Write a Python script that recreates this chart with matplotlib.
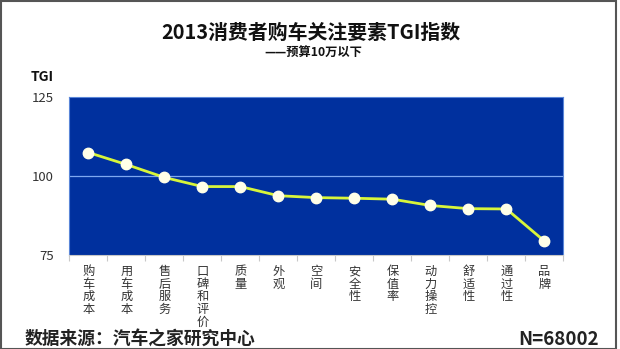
import numpy as np
import matplotlib
matplotlib.use("Agg")
import matplotlib.pyplot as plt
from matplotlib.patches import Rectangle

plt.rcParams['font.family'] = ['Noto Sans CJK SC', 'DejaVu Sans']

categories = ['购车成本', '用车成本', '售后服务', '口碑和评价', '质量', '外观', '空间',
              '安全性', '保值率', '动力操控', '舒适性', '通过性', '品牌']
tgi = [107.5, 103.7, 99.6, 96.7, 96.7, 93.8, 93.2, 93.0, 92.7, 90.7, 89.7, 89.6, 79.4]
yticks = [75, 100, 125]

fig = plt.figure(figsize=(6.2, 3.49), dpi=100)
fig.patch.set_facecolor('white')

ax = fig.add_axes([0.1118, 0.2693, 0.797, 0.4519])
ax.set_facecolor('#00309E')

x = np.arange(len(categories))
ax.axhline(100, color='#7FA8F0', lw=0.9, zorder=1)
ax.plot(x, tgi, color='#D8F53A', lw=2, zorder=2,
        marker='o', ms=7.5, mfc='#FFFFE8', mec='#FFFFE8')

ax.set_xlim(-0.5, len(categories) - 0.5)
ax.set_ylim(75, 125)
ax.set_yticks(yticks)
ax.set_yticklabels([str(v) for v in yticks], fontsize=9.5, color='#333333')
ax.tick_params(axis='y', length=0, pad=11)

# category ticks sit between the points, labels written top to bottom
ax.set_xticks(np.arange(len(categories) + 1) - 0.5)
ax.set_xticklabels([])
ax.tick_params(axis='x', length=4, color='#C8C8C8', direction='out')
for i, name in enumerate(categories):
    ax.text(i, 71.8, '\n'.join(name), ha='center', va='top', fontsize=8.8,
            color='#333333', linespacing=0.96)

for side in ['top', 'left', 'right']:
    ax.spines[side].set_color('#5A86D8')
    ax.spines[side].set_linewidth(0.8)
ax.spines['bottom'].set_color('#C8C8C8')
ax.spines['bottom'].set_linewidth(0.8)

fig.text(0.502, 0.908, '2013消费者购车关注要素TGI指数', ha='center', va='center',
         fontsize=14.3, fontweight='bold', color='#111111')
fig.text(0.505, 0.851, '——预算10万以下', ha='center', va='center',
         fontsize=8.8, fontweight='bold', color='#111111')
fig.text(0.068, 0.779, 'TGI', ha='center', va='center',
         fontsize=10, fontweight='bold', color='#111111')

fig.text(0.040, 0.0, '数据来源：汽车之家研究中心', ha='left', va='bottom',
         fontsize=12.8, fontweight='bold', color='#222222')
fig.text(0.966, 0.0, 'N=68002', ha='right', va='bottom',
         fontsize=13.5, fontweight='bold', color='#222222')

fig.add_artist(Rectangle((0.002, 0.0), 0.992, 0.997, transform=fig.transFigure,
                         fill=False, ec='#555555', lw=1.5))

fig.savefig('out.png', dpi=100)
